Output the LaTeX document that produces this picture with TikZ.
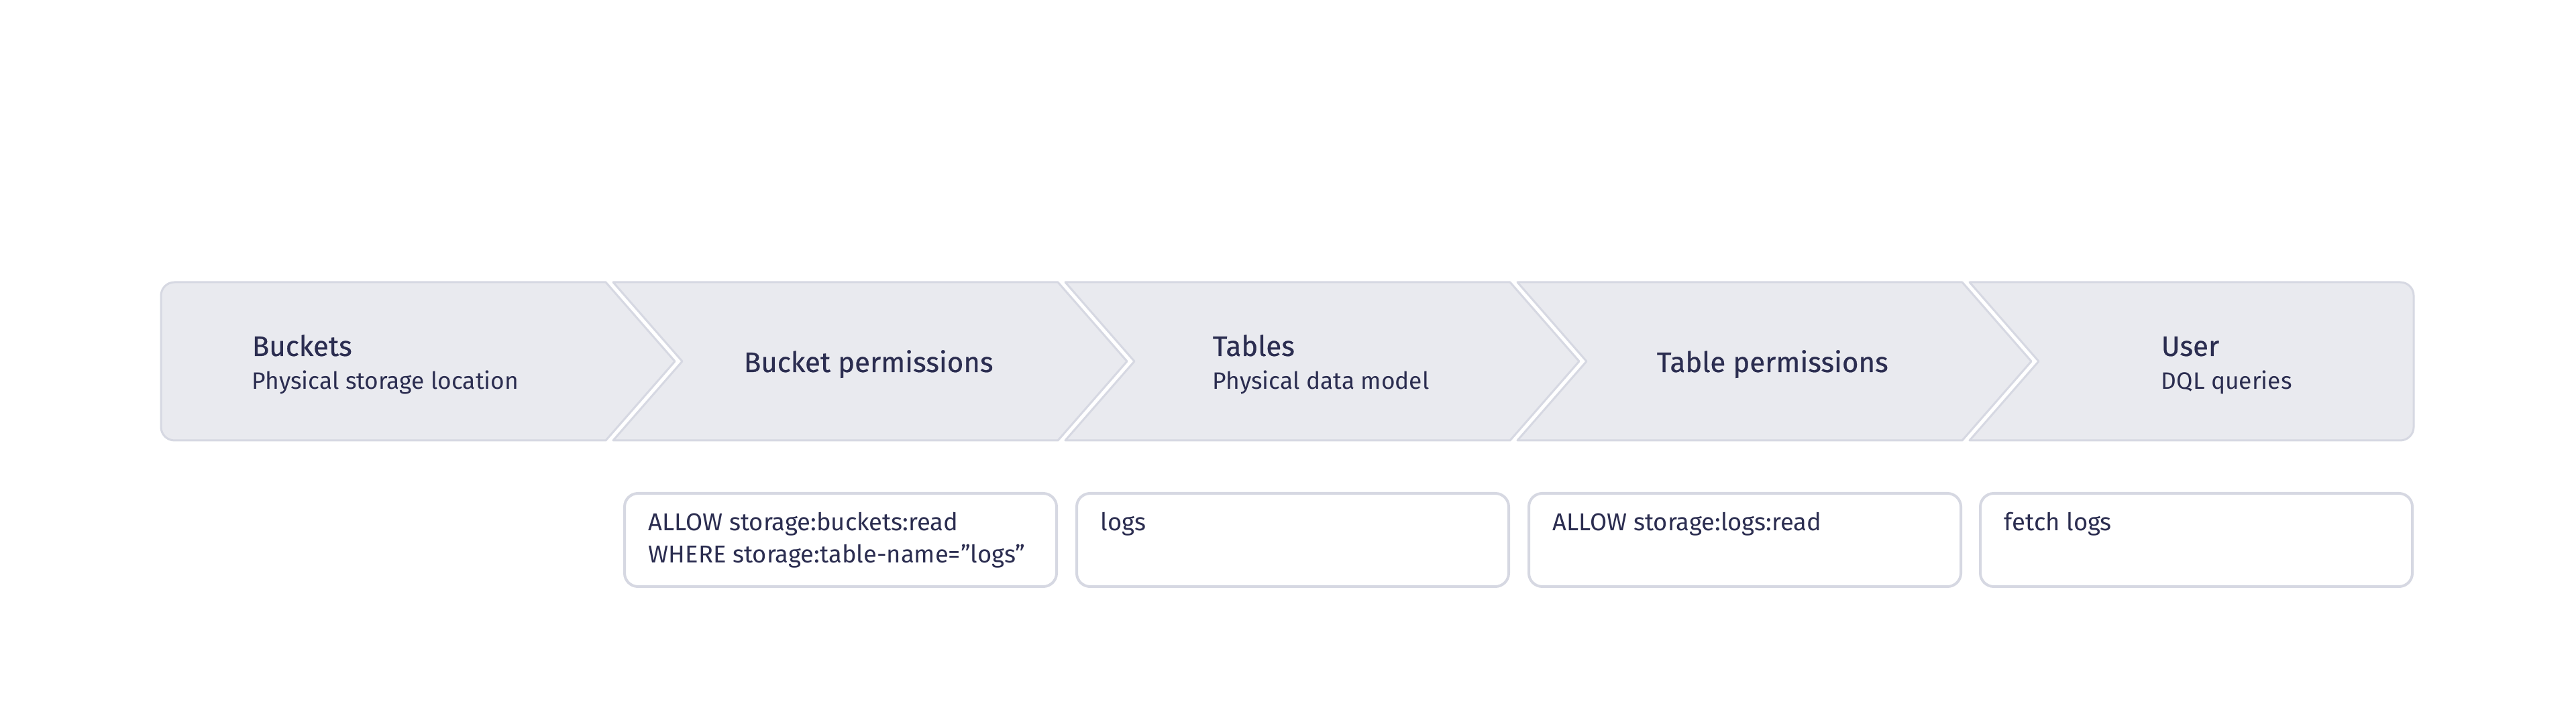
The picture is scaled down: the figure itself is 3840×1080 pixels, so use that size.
\documentclass[tikz,border=0pt]{standalone}
\usepackage{fontspec}
\setmainfont{Fira Sans}
\newfontfamily\titlefont[FakeBold=0.6]{Fira Sans}
\definecolor{bandfill}{HTML}{E9EAEF}
\definecolor{bandline}{HTML}{D6D8E2}
\definecolor{ink}{HTML}{2B2D50}
\tikzset{
  band/.style={fill=bandfill, draw=bandline, line width=0.75pt, line join=round},
  pbox/.style={draw=bandline, fill=white, line width=1pt, rounded corners=5pt,
    minimum width=161pt, minimum height=34.75pt, inner sep=0pt},
  ttl/.style={anchor=base west, inner sep=0pt, text=ink, font=\titlefont\fontsize{10.5pt}{12pt}\selectfont},
  sub/.style={anchor=base west, inner sep=0pt, text=ink, font=\fontsize{8.85pt}{10pt}\selectfont},
  code/.style={anchor=base west, inner sep=0pt, text=ink, font=\fontsize{9.1pt}{11pt}\selectfont}
}
\begin{document}
\begin{tikzpicture}[x=0.25pt,y=0.25pt]
\useasboundingbox (0,0) rectangle (3840,1080);
\fill[white] (0,0) rectangle (3840,1080);
% chevron band (y up: top 659, bottom 423, middle 541)
\draw[band] (903,659) -- (1006,541) -- (903,423) -- (260,423)
  arc[start angle=270, end angle=180, radius=5pt] -- (240,639)
  arc[start angle=180, end angle=90, radius=5pt] -- cycle;
\foreach \L/\R in {914/1577, 1588/2251, 2262/2925}{
  \draw[band] (\L,659) -- (\R,659) -- (\R+103,541) -- (\R,423) -- (\L,423) -- (\L+103,541) -- cycle;
}
\draw[band] (2936,659) -- (3578,659)
  arc[start angle=90, end angle=0, radius=5pt] -- (3598,443)
  arc[start angle=0, end angle=-90, radius=5pt] -- (2936,423) -- (3039,541) -- cycle;
% band texts
\node[ttl] (t1) at (375,549) {Buckets};
\node[sub] (s1) at (375,499) {Physical storage location};
\node[ttl] (t2) at (1108,525) {Bucket permissions};
\node[ttl] (t3) at (1807,549) {Tables};
\node[sub] (s3) at (1807,499) {Physical data model};
\node[ttl] (t4) at (2469,525) {Table permissions};
\node[ttl] (t5) at (3221,549) {User};
\node[sub] (s5) at (3221,499) {DQL queries};
% policy boxes
\node[pbox, anchor=north east] (b1) at (1577,346) {};
\node[pbox, anchor=north east] (b2) at (2251,346) {};
\node[pbox, anchor=north east] (b3) at (2925,346) {};
\node[pbox, anchor=north east] (b4) at (3598,346) {};
\node[code] (c1a) at ([xshift=9.25pt,yshift=-14.5pt]b1.north west) {ALLOW storage:buckets:read};
\node[code] (c1b) at ([xshift=9.25pt,yshift=-26.4pt]b1.north west) {WHERE storage:table-name=”logs”};
\node[code] (c2) at ([xshift=9.25pt,yshift=-14.5pt]b2.north west) {logs};
\node[code] (c3) at ([xshift=9.25pt,yshift=-14.5pt]b3.north west) {ALLOW storage:logs:read};
\node[code] (c4) at ([xshift=9.25pt,yshift=-14.5pt]b4.north west) {fetch logs};
\end{tikzpicture}
\end{document}
